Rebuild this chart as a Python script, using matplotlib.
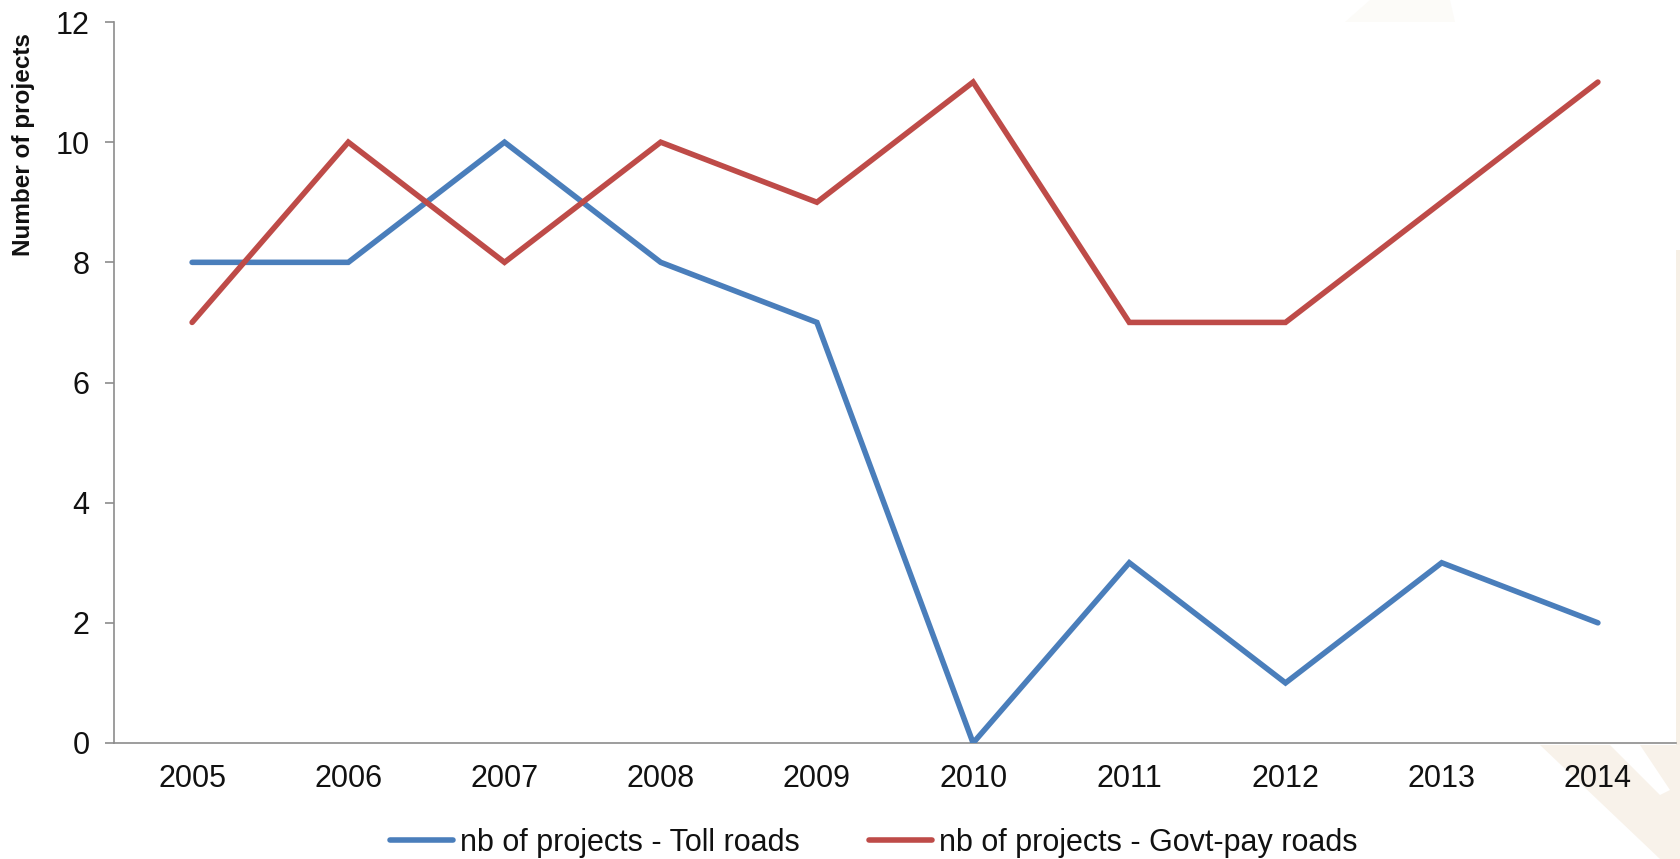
import matplotlib
matplotlib.use("Agg")
import matplotlib.pyplot as plt
from matplotlib.patches import Polygon
from matplotlib.lines import Line2D

plt.rcParams['font.family'] = ['Liberation Sans', 'DejaVu Sans']

years = ['2005', '2006', '2007', '2008', '2009', '2010', '2011', '2012', '2013', '2014']
toll_roads = [8, 8, 10, 8, 7, 0, 3, 1, 3, 2]
govt_pay_roads = [7, 10, 8, 10, 9, 11, 7, 7, 9, 11]
labels = ['nb of projects - Toll roads', 'nb of projects - Govt-pay roads']

W, H = 1681, 859
fig = plt.figure(figsize=(W / 100, H / 100), dpi=100)
fig.patch.set_facecolor('white')


def px(points):
    # pixel coords (from top-left) -> figure fraction
    return [(x / W, 1 - y / H) for x, y in points]


# faint slide decoration behind the chart
deco = [
    ([(1540, 745), (1681, 745), (1681, 859), (1660, 859)], '#F8F2EA'),
    ([(1676, 250), (1681, 250), (1681, 745), (1676, 745)], '#F6EFE5'),
    ([(1370, 0), (1450, 0), (1455, 22), (1345, 22)], '#FCFBF8'),
]
for pts, c in deco:
    fig.patches.append(Polygon(px(pts), closed=True, transform=fig.transFigure,
                               facecolor=c, edgecolor='none', zorder=0))
# white diagonal stripe inside the bottom-right shape
fig.patches.append(Polygon(px([(1610, 745), (1640, 745), (1670, 790), (1660, 795)]),
                           closed=True, transform=fig.transFigure,
                           facecolor='white', edgecolor='none', zorder=0))

ax = fig.add_axes([114 / W, 1 - 743 / H, (1676 - 114) / W, (743 - 22) / H])
ax.set_facecolor('white')
ax.set_zorder(1)

x = range(len(years))
ax.plot(x, toll_roads, color='#4A7EBB', lw=4.0, solid_capstyle='round',
        solid_joinstyle='miter', label=labels[0])
ax.plot(x, govt_pay_roads, color='#BE4B48', lw=4.0, solid_capstyle='round',
        solid_joinstyle='miter', label=labels[1])

ax.set_xlim(-0.5, len(years) - 0.5)
ax.set_ylim(0, 12)
ax.set_yticks(range(0, 13, 2))
ax.set_xticks(list(x))
ax.set_xticklabels(years)

for s in ['top', 'right']:
    ax.spines[s].set_visible(False)
for s in ['left', 'bottom']:
    ax.spines[s].set_color('#8C8C8C')
    ax.spines[s].set_linewidth(1.2)
ax.spines['bottom'].set_zorder(0)

ax.tick_params(axis='y', length=6.5, width=1.2, color='#8C8C8C', pad=11,
               labelsize=22, labelcolor='#111111')
ax.tick_params(axis='x', length=0, pad=15, labelsize=22, labelcolor='#111111')

fig.text(24 / W, 1 - 145 / H, 'Number of projects', rotation=90, ha='center',
         va='center', fontsize=17.5, fontweight='bold', color='#111111')

handles = [Line2D([], [], color='#4A7EBB', lw=4.0, solid_capstyle='round'),
           Line2D([], [], color='#BE4B48', lw=4.0, solid_capstyle='round')]
fig.legend(handles, labels, loc='center', bbox_to_anchor=(874 / W, 1 - 843 / H),
           ncol=2, frameon=False, fontsize=22, handlelength=2.05,
           handletextpad=0.25, columnspacing=2.25, labelcolor='#111111')

fig.savefig('out.png', dpi=100, facecolor=fig.get_facecolor())
